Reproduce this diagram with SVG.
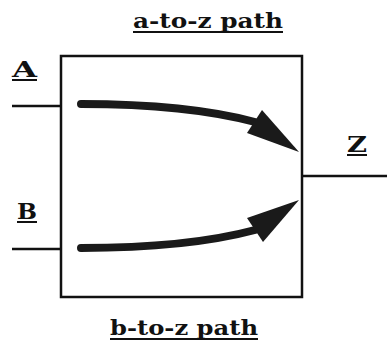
<svg xmlns="http://www.w3.org/2000/svg" width="387" height="345" viewBox="0 0 387 345">
<style>
.lbl{font-family:"DejaVu Serif","Liberation Serif",serif;font-weight:bold;fill:#111;}
.ul{stroke:#111;stroke-width:2;}
.wire{stroke:#111;stroke-width:2.5;fill:none;}
.body{stroke:#1a1a1a;stroke-width:8;fill:none;stroke-linecap:round;}
.head{fill:#1a1a1a;}
</style>
<rect width="387" height="345" fill="#fff"/>
<g id="block">
<rect x="61" y="56" width="241" height="241" class="wire"/>
</g>
<g id="title-a">
<text x="133" y="28" class="lbl" font-size="20" textLength="150" lengthAdjust="spacingAndGlyphs">a-to-z path</text>
<line x1="133" y1="32" x2="283" y2="32" class="ul"/>
</g>
<g id="title-b">
<text x="110" y="335" class="lbl" font-size="20" textLength="148" lengthAdjust="spacingAndGlyphs">b-to-z path</text>
<line x1="110" y1="339" x2="258" y2="339" class="ul"/>
</g>
<g id="input-a">
<text x="12" y="77" class="lbl" font-size="22" textLength="25" lengthAdjust="spacingAndGlyphs">A</text>
<line x1="12" y1="80" x2="37" y2="80" class="ul"/>
</g>
<g id="input-b">
<text x="17" y="219" class="lbl" font-size="22" textLength="20" lengthAdjust="spacingAndGlyphs">B</text>
<line x1="17" y1="222" x2="37" y2="222" class="ul"/>
</g>
<g id="output-z">
<text x="347" y="152" class="lbl" font-size="22" textLength="20" lengthAdjust="spacingAndGlyphs">Z</text>
<line x1="347" y1="155" x2="367" y2="155" class="ul"/>
</g>
<g id="connectors">
<line x1="12" y1="106" x2="61" y2="106" class="wire"/>
<line x1="12" y1="249" x2="61" y2="249" class="wire"/>
<line x1="302" y1="176" x2="387" y2="176" class="wire"/>
<path d="M81,104 C150,104 210,110 255,122" class="body"/>
<polygon points="262,110 299,152 247,133" class="head"/>
<path d="M81,248 C150,248 210,242 255,230" class="body"/>
<polygon points="247,218 299,200 263,242" class="head"/>
</g>
</svg>
